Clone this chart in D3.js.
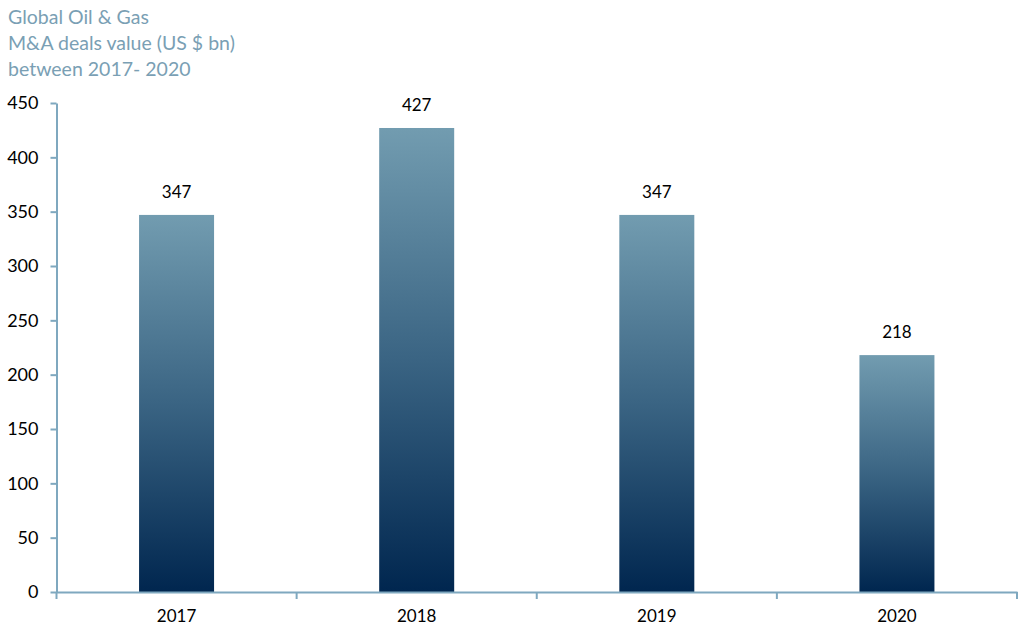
<!DOCTYPE html>
<html><head><meta charset="utf-8">
<script src="https://cdn.jsdelivr.net/npm/d3@7"></script>
<style>
html,body{margin:0;padding:0;background:#fff;}
svg{display:block;}
text{font-family:Lato,"Open Sans",sans-serif;}
</style></head>
<body>
<svg id="chart" width="1024" height="633"></svg>
<script>
const titleLines = ["Global Oil & Gas", "M&A deals value (US $ bn)", "between 2017- 2020"];
const categories = ["2017", "2018", "2019", "2020"];
const values = [347, 427, 347, 218];
const yTicks = [0, 50, 100, 150, 200, 250, 300, 350, 400, 450];

const svg = d3.select("#chart");
const m = {left: 56.5, right: 1017, top: 103, bottom: 592};
const x = d3.scaleBand().domain(categories).range([m.left, m.right]).paddingInner(0).paddingOuter(0);
const y = d3.scaleLinear().domain([0, 450]).range([m.bottom, m.top]);
const axisColor = "#7fa8bf";

const defs = svg.append("defs");
const grad = defs.append("linearGradient").attr("id", "barGrad")
  .attr("x1", 0).attr("y1", 0).attr("x2", 0).attr("y2", 1);
grad.append("stop").attr("offset", "0%").attr("stop-color", "#729cb0");
grad.append("stop").attr("offset", "50%").attr("stop-color", "#3a6483");
grad.append("stop").attr("offset", "100%").attr("stop-color", "#00264f");

// title
svg.append("g").selectAll("text").data(titleLines).join("text")
  .attr("x", 8).attr("y", (d, i) => 24 + i * 26)
  .attr("fill", "#7a9fb4").attr("font-size", 19.5).text(d => d);

// bars
const bw = 75;
svg.append("g").selectAll("rect").data(values).join("rect")
  .attr("x", (d, i) => x(categories[i]) + x.bandwidth() / 2 - bw / 2)
  .attr("y", d => y(d))
  .attr("width", bw)
  .attr("height", d => y(0) - y(d))
  .attr("fill", "url(#barGrad)");

// value labels
svg.append("g").selectAll("text").data(values).join("text")
  .attr("x", (d, i) => x(categories[i]) + x.bandwidth() / 2)
  .attr("y", d => y(d) - 17)
  .attr("text-anchor", "middle").attr("font-size", 17).attr("fill", "#000")
  .text(d => d);

// y axis
const yAxis = d3.axisLeft(y).tickValues(yTicks).tickSize(6).tickPadding(12).tickSizeOuter(0);
const gy = svg.append("g").attr("transform", `translate(${m.left},0)`).call(yAxis);
gy.select(".domain").attr("stroke", axisColor).attr("stroke-width", 2);
gy.selectAll(".tick line").attr("stroke", axisColor).attr("stroke-width", 2);
gy.selectAll(".tick text").attr("font-size", 18).attr("fill", "#000")
  .attr("font-family", "Lato,'Open Sans',sans-serif");

// x axis
const xAxis = d3.axisBottom(x).tickSize(0).tickPadding(18).tickSizeOuter(0);
const gx = svg.append("g").attr("transform", `translate(0,${m.bottom})`).call(xAxis);
gx.select(".domain").attr("stroke", axisColor).attr("stroke-width", 2);
gx.selectAll(".tick text").attr("font-size", 17).attr("fill", "#000")
  .attr("font-family", "Lato,'Open Sans',sans-serif");
// boundary ticks
const bounds = categories.map(c => x(c)).concat([x.range()[1]]);
gx.append("g").selectAll("line").data(bounds).join("line")
  .attr("x1", d => d).attr("x2", d => d).attr("y1", 0).attr("y2", 7)
  .attr("stroke", axisColor).attr("stroke-width", 2);
</script>
</body></html>
